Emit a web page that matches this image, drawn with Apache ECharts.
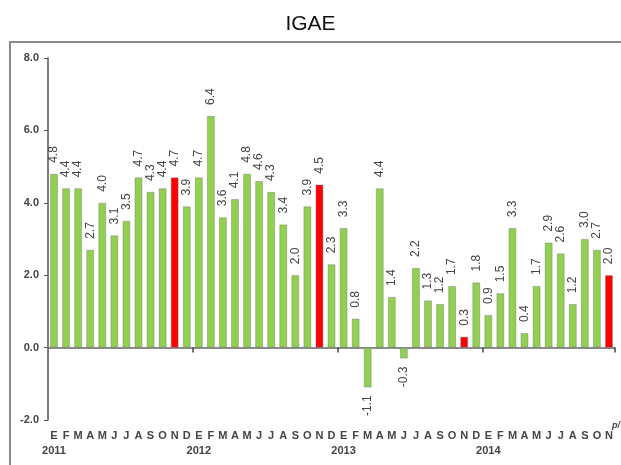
<!DOCTYPE html>
<html>
<head>
<meta charset="utf-8">
<script src="https://cdn.jsdelivr.net/npm/echarts@6/dist/echarts.min.js"></script>
<style>
html,body{margin:0;padding:0;background:#fff;}
#c{width:621px;height:465px;}
</style>
</head>
<body>
<div id="c"></div>
<script>
// Months Jan 2011 – Nov 2014 (Spanish initials)
var monthLetters = ['E','F','M','A','M','J','J','A','S','O','N','D'];
var years = ['2011','2012','2013','2014'];
var values = [
  4.8, 4.4, 4.4, 2.7, 4.0, 3.1, 3.5, 4.7, 4.3, 4.4, 4.7, 3.9,
  4.7, 6.4, 3.6, 4.1, 4.8, 4.6, 4.3, 3.4, 2.0, 3.9, 4.5, 2.3,
  3.3, 0.8, -1.1, 4.4, 1.4, -0.3, 2.2, 1.3, 1.2, 1.7, 0.3, 1.8,
  0.9, 1.5, 3.3, 0.4, 1.7, 2.9, 2.6, 1.2, 3.0, 2.7, 2.0
];
var yTicks = { min: -2, max: 8, interval: 2 };
var prelimMark = 'p/';

var categories = values.map(function (v, i) {
  return years[Math.floor(i / 12)] + '-' + (i % 12 + 1);
});

var GREEN = '#92d050', RED = '#ff0000';
var barData = values.map(function (v, i) {
  var item = {
    value: v,
    itemStyle: { color: (i % 12 === 10) ? RED : GREEN }
  };
  if (v < 0) {
    item.label = { position: 'bottom', align: 'right', distance: 8 };
  }
  return item;
});

var chart = echarts.init(document.getElementById('c'), null, { renderer: 'canvas' });
var FONT = 'Liberation Sans, Arial, sans-serif';
var frame = {
  type: 'rect', shape: { x: 10, y: 42, width: 700, height: 600 },
  style: { fill: null, stroke: '#8a8a8a', lineWidth: 2 }, z: 0
};
chart.setOption({
  animation: false,
  textStyle: { fontFamily: FONT },
  title: {
    text: 'IGAE', left: 'center', top: 9,
    textStyle: { fontFamily: FONT, fontSize: 21, fontWeight: 'normal', color: '#111' }
  },
  graphic: [frame],
  grid: { left: 48, right: 6, top: 58, bottom: 45 },
  xAxis: [{
    type: 'category', data: categories, position: 'bottom',
    axisLine: { onZero: true, lineStyle: { color: '#666', width: 1.5 } },
    axisTick: { show: true, length: 5, interval: function (i) { return i % 12 === 0 && i > 0; }, lineStyle: { color: '#444', width: 1.5 } },
    axisLabel: { show: false }
  }, {
    type: 'category', data: categories, position: 'bottom',
    axisLine: { show: false, onZero: false },
    axisTick: { show: false },
    axisLabel: {
      interval: 0, margin: 8, color: '#444', fontSize: 11, fontWeight: 'bold',
      formatter: function (val, i) {
        var m = monthLetters[i % 12];
        if (i % 12 === 0) return '{m|' + m + '}\n{y|' + years[i / 12] + '}';
        return '{m|' + m + '}';
      },
      rich: {
        m: { fontSize: 11, fontWeight: 'bold', color: '#444', lineHeight: 15 },
        y: { fontSize: 11, fontWeight: 'bold', color: '#444', lineHeight: 15 }
      }
    }
  }],
  yAxis: {
    type: 'value', min: yTicks.min, max: yTicks.max, interval: yTicks.interval,
    axisLine: { show: true, lineStyle: { color: '#555', width: 1.5 } },
    axisTick: { show: true, length: 4, lineStyle: { color: '#555' } },
    splitLine: { show: false },
    axisLabel: {
      color: '#444', fontSize: 11, fontWeight: 'bold', margin: 9,
      formatter: function (v) { return v.toFixed(1); }
    }
  },
  series: [{
    type: 'bar', data: barData, xAxisIndex: 0,
    barCategoryGap: '36%',
    itemStyle: { borderColor: 'rgba(110,110,110,0.5)', borderWidth: 0.8 },
    label: {
      show: true, position: 'top', rotate: 90, align: 'left', verticalAlign: 'middle',
      distance: 11, color: '#444', fontSize: 12, fontFamily: FONT,
      formatter: function (p) { return p.value.toFixed(1); }
    }
  }]
});

// superscript "p/" next to the last month label, positioned from the axis scale
var lastIdx = values.length - 1;
var px = chart.convertToPixel({ xAxisIndex: 1 }, categories[lastIdx]);
var py = chart.convertToPixel({ yAxisIndex: 0 }, yTicks.min);
chart.setOption({
  graphic: [frame, {
    type: 'text', x: px + 3, y: py + 1,
    style: { text: prelimMark, font: 'italic bold 9px ' + FONT, fill: '#444' }
  }]
});
</script>
</body>
</html>
